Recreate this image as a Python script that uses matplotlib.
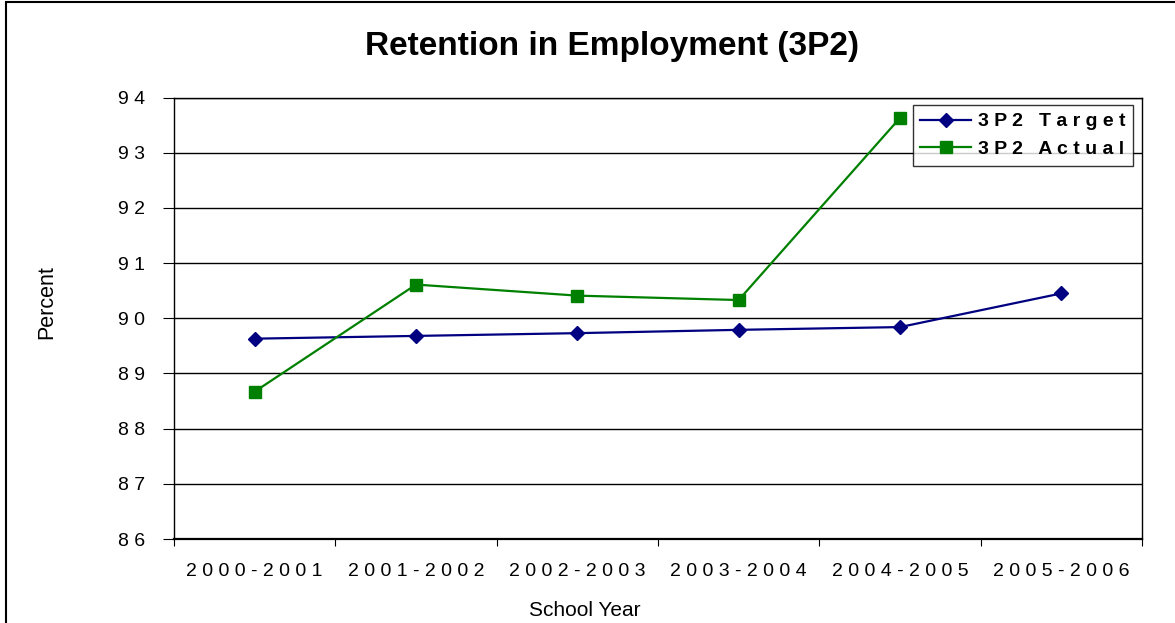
import numpy as np
import matplotlib
matplotlib.use("Agg")
import matplotlib.pyplot as plt
from matplotlib.patches import Rectangle

plt.rcParams['font.family'] = ['Liberation Sans', 'DejaVu Sans']

# データ
years = ["2000-2001", "2001-2002", "2002-2003", "2003-2004", "2004-2005", "2005-2006"]
target = [89.63, 89.68, 89.73, 89.79, 89.84, 90.45]
actual = [88.67, 90.61, 90.41, 90.33, 93.63]
series_names = ["3P2 Target", "3P2 Actual"]

def spaced(s, sep=" "):
    return sep.join(s)

fig = plt.figure(figsize=(11.75, 6.23), dpi=100)
ax = fig.add_axes([174 / 1175, 1 - 539 / 623, (1142 - 174) / 1175, (539 - 97.5) / 623])

x = np.arange(len(years))
ax.plot(x, target, color="#000080", marker="D", markersize=7, lw=1.6,
        label=spaced(series_names[0]))
ax.plot(x[:len(actual)], actual, color="#008000", marker="s", markersize=8,
        lw=1.6, label=spaced(series_names[1]))

ax.set_ylim(86, 94)
ax.set_xlim(-0.5, len(years) - 0.5)
yt = np.arange(86, 95)
ax.set_yticks(yt)
ax.set_yticklabels([spaced(str(v)) for v in yt], fontsize=14)
ax.yaxis.grid(True, color="black", lw=1)
ax.set_axisbelow(True)

ax.set_xticks(np.arange(-0.5, len(years)), labels=[])
ax.set_xticks(x, minor=True)
ax.set_xticklabels([spaced(y) for y in years], minor=True, fontsize=14)
ax.tick_params(axis="x", which="major", length=5, direction="out")
ax.tick_params(axis="x", which="minor", length=0, pad=17)
ax.tick_params(axis="y", length=8, direction="out", pad=13)
for sp in ax.spines.values():
    sp.set_color("black")
    sp.set_linewidth(1)
ax.spines["bottom"].set_linewidth(1.6)

leg = ax.legend(loc="upper right", bbox_to_anchor=(1133 / 1175, 1 - 105 / 623),
                bbox_transform=fig.transFigure, frameon=True, fancybox=False,
                borderaxespad=0, prop={"weight": "bold", "size": 14},
                handlelength=2.6, borderpad=0.4, labelspacing=0.5,
                handletextpad=0.35)
leg.get_frame().set_edgecolor("black")
leg.get_frame().set_linewidth(1)

fig.text(612 / 1175, 1 - 46 / 623, "Retention in Employment (3P2)", ha="center",
         va="center", fontsize=24, fontweight="bold")
fig.text(47 / 1175, 1 - 302 / 623, "Percent", rotation=90, ha="center",
         va="center", fontsize=15.5)
fig.text(585 / 1175, 1 - 610 / 623, "School Year", ha="center", va="center",
         fontsize=15)

# 外枠
fig.patches.append(Rectangle((6 / 1175, -0.1), 1.2, 1.1 - 2 / 623, transform=fig.transFigure,
                             fill=False, edgecolor="black", lw=1.5))

plt.savefig("out.png", dpi=100)
